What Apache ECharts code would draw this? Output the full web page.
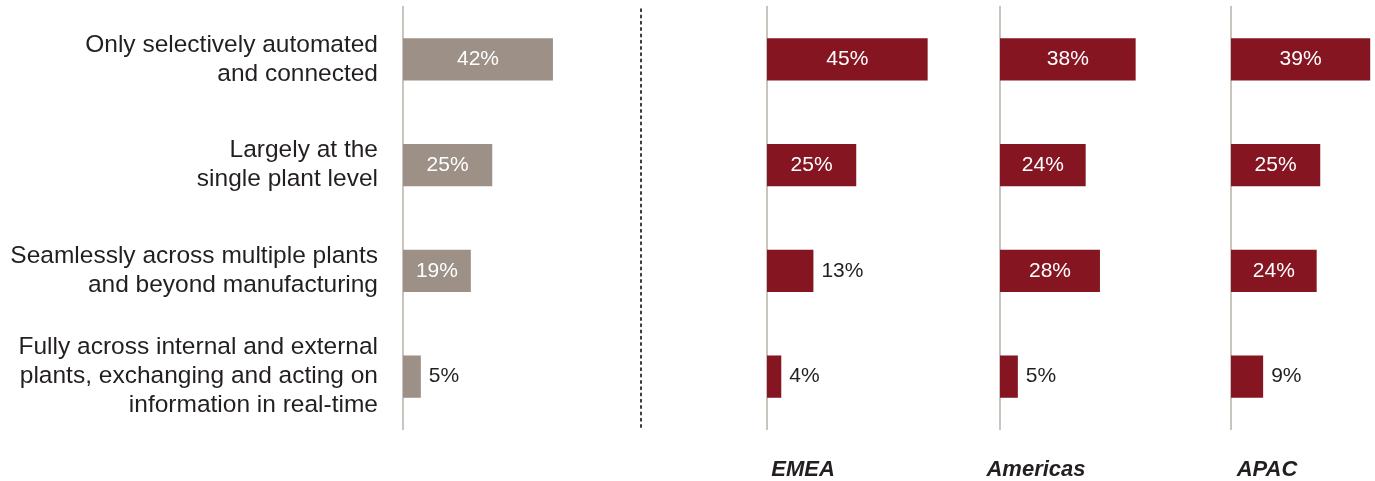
<!DOCTYPE html>
<html>
<head>
<meta charset="utf-8">
<script src="https://cdn.jsdelivr.net/npm/echarts@6/dist/echarts.min.js"></script>
<style>
  html, body { margin: 0; padding: 0; background: #ffffff; }
  #chart { width: 1375px; height: 481px; }
</style>
</head>
<body>
<div id="chart"></div>
<script>
// Degree of digital integration across plants: overall and by region (% of respondents)
const categories = [
  'Only selectively automated\nand connected',
  'Largely at the\nsingle plant level',
  'Seamlessly across multiple plants\nand beyond manufacturing',
  'Fully across internal and external\nplants, exchanging and acting on\ninformation in real-time'
];
const overallValues = [42, 25, 19, 5];
const emeaValues = [45, 25, 13, 4];
const americasValues = [38, 24, 28, 5];
const apacValues = [39, 25, 24, 9];
const regionNames = ['EMEA', 'Americas', 'APAC'];

const FONT = '"Liberation Sans", Arial, Helvetica, sans-serif';
const GREY = '#9c9087';
const RED = '#851621';
const TEXT = '#231f20';
const AXIS = '#b9b0aa';

// Panel layout: left edge of each panel's baseline; all panels share one px-per-% scale
const panelLeft = [403, 767, 1000, 1231];
const panelMax = [50, 50, 50, 40];
const pxPerUnit = 3.57;
const panelTop = 6.5;
const panelHeight = 423;

const panels = [
  { values: overallValues, color: GREY },
  { values: emeaValues, color: RED },
  { values: americasValues, color: RED },
  { values: apacValues, color: RED }
];

const grids = [];
const xAxes = [];
const yAxes = [];
const series = [];

panels.forEach((p, i) => {
  grids.push({
    left: panelLeft[i], top: panelTop,
    width: panelMax[i] * pxPerUnit, height: panelHeight,
    containLabel: false
  });
  xAxes.push({
    type: 'value', gridIndex: i, min: 0, max: panelMax[i],
    show: false, splitLine: { show: false }
  });
  yAxes.push({
    type: 'category', gridIndex: i, data: categories, inverse: true,
    axisLine: { show: true, lineStyle: { color: AXIS, width: 1.5 } },
    axisTick: { show: false },
    axisLabel: i === 0 ? {
      show: true, margin: 25, align: 'right',
      fontFamily: FONT, fontSize: 24.5, lineHeight: 29, color: TEXT
    } : { show: false },
    splitLine: { show: false }
  });
  series.push({
    type: 'bar', xAxisIndex: i, yAxisIndex: i,
    barCategoryGap: '60%',
    itemStyle: { color: p.color },
    silent: true,
    data: p.values.map(v => {
      const inside = v >= 15;
      return {
        value: v,
        label: {
          show: true,
          position: inside ? 'inside' : 'right',
          distance: 8,
          formatter: '{c}%',
          fontFamily: FONT, fontSize: 21,
          color: inside ? '#ffffff' : TEXT
        }
      };
    })
  });
});

// Dotted divider between the overall panel and the regional panels
const dividerIndex = panels.length;
grids.push({ left: 641, top: 5, width: 10, height: 422 });
xAxes.push({ type: 'value', gridIndex: dividerIndex, show: false });
yAxes.push({
  type: 'category', gridIndex: dividerIndex, data: categories,
  axisLine: { show: true, lineStyle: { color: '#3c3c3c', width: 2, type: [2, 4.3] } },
  axisTick: { show: false }, axisLabel: { show: false }, splitLine: { show: false }
});

// Region captions under each regional panel
const titles = regionNames.map((name, k) => ({
  text: name,
  left: panelLeft[k + 1] + 31,
  top: 454,
  textAlign: 'center',
  textStyle: { fontFamily: FONT, fontSize: 22, fontWeight: 'bold', fontStyle: 'italic', color: TEXT }
}));

const chart = echarts.init(document.getElementById('chart'), null, { renderer: 'canvas' });
chart.setOption({
  animation: false,
  backgroundColor: '#ffffff',
  title: titles,
  grid: grids,
  xAxis: xAxes,
  yAxis: yAxes,
  series: series
});
</script>
</body>
</html>
